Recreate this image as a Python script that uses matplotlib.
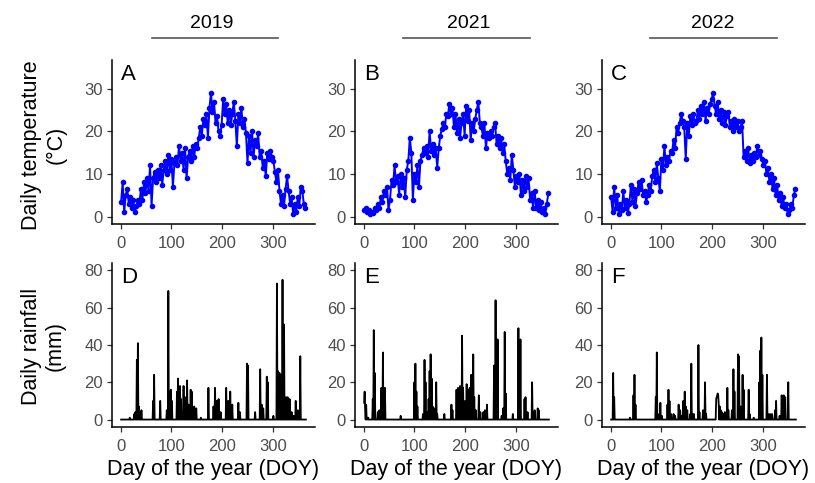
import matplotlib
matplotlib.use("Agg")
import matplotlib.pyplot as plt
from matplotlib.lines import Line2D
import numpy as np

plt.rcParams['font.family'] = ['Liberation Sans', 'DejaVu Sans']

doy_t = list(range(1, 366, 3))

temp_2019 = [3.5, 8, 1, 5, 6.5, 3, 4.5, 2, 4, 1,
             2.5, 4, 3, 6.5, 4, 8, 5.5, 9, 6, 12,
             2.5, 9, 10.5, 8, 11, 9, 12, 7.5, 11, 13,
             10, 14.5, 11, 13.5, 7, 12.5, 14, 12, 16.5, 13,
             15, 11, 16, 9, 14, 15.5, 13, 16.5, 14, 17,
             16, 18.5, 21, 19, 23, 21.5, 24, 18.5, 25.5, 29,
             24.5, 27, 22, 23.5, 20, 19, 21.5, 27.5, 24, 26.5,
             22, 25, 21.5, 24, 27, 22.5, 16.5, 24, 22, 25.5,
             21, 23, 19.5, 12.5, 19, 15, 20, 14, 18, 16.5,
             19.5, 14, 15.5, 11.5, 13, 9.5, 15, 13.5, 15.5, 14,
             13, 10.5, 8, 11, 6, 3, 5, 2.5, 6.5, 9.5,
             6, 3, 4.5, 0.5, 3, 1, 4.5, 2.5, 7, 6,
             3, 2]

temp_2021 = [1.5, 2, 1, 1.5, 0.5, 1, 0.8, 2, 1.5, 3,
             2, 4.5, 3.5, 6, 5, 7, 1.5, 4, 8.5, 7.5,
             12, 8, 9.5, 5, 10, 7, 9, 4.5, 11, 13,
             18.5, 15, 4, 10, 8, 12, 7, 13, 14.5, 16,
             15, 16.5, 14, 20, 15.5, 17, 14.5, 16, 11.5, 16,
             19, 20.5, 22, 21, 24, 23.5, 26.5, 24, 25.5, 21,
             24, 19.5, 23, 18.5, 22, 24, 19, 26, 22.5, 25,
             18, 22, 20, 23, 25, 27, 22, 21, 19, 22,
             16, 19.5, 18.5, 20, 19, 21, 22, 17, 19, 16,
             18.5, 15, 17, 13, 10, 11.5, 8.5, 14.5, 11, 7,
             9.5, 8, 10, 5, 8.5, 6, 9.5, 7, 9, 4,
             5.5, 2, 6, 2, 4, 1.5, 3.5, 1, 2, 0.5,
             3, 5.5]

temp_2022 = [4.5, 1, 7, 2, 5, 0.5, 3, 1.5, 6, 2,
             4, 0.8, 3, 7.5, 3.5, 6.5, 2.5, 5.5, 8, 6.5,
             8.5, 5, 6, 3.5, 5, 7.5, 6, 9.5, 11, 8,
             12.5, 9, 6, 13.5, 11, 16.5, 12, 14, 13, 15.5,
             15, 18, 16, 21, 19.5, 22, 24, 22.5, 21, 13.5,
             22, 19, 23.5, 21.5, 24, 22, 22.5, 25, 23, 26,
             24, 27, 22.5, 25.5, 24, 26.5, 27.5, 29, 26, 24,
             27, 23, 25, 22, 24.5, 21.5, 23.5, 24.5, 21, 22.5,
             20, 23, 21, 22.5, 20, 21, 22.5, 14, 15.5, 13,
             16, 12.5, 14.5, 13, 15, 14, 16.5, 14.5, 15.5, 13.5,
             12, 13, 10, 11.5, 8, 10, 6.5, 9, 5, 7.5,
             4, 5.5, 2.5, 4.5, 2, 3, 0.5, 1.5, 3, 2,
             5, 6.5]

# Rainfall events (all other days are zero)
rain_doy_2019 = [18, 27, 29, 32, 34, 36, 41, 64, 66, 78, 91, 94, 96, 99, 101,
                 111, 113, 115, 117, 119, 124, 127, 131, 134, 138, 140, 145, 149,
                 158, 173, 183, 186, 189, 193, 197, 208, 212, 216, 220, 232, 235,
                 249, 251, 265, 275, 278, 281, 288, 290, 301, 308, 310, 313, 316,
                 319, 322, 326, 329, 333, 337, 341, 345, 349, 354]
rain_mm_2019 = [1, 3, 4, 32, 41, 7, 5, 10, 24, 10, 5, 69, 15, 16, 10,
                15, 22, 15, 18, 11, 18, 12, 21, 8, 16, 15, 7, 6,
                1, 17, 7, 17, 10, 11, 4, 17, 10, 15, 8, 9, 4,
                30, 29, 4, 27, 8, 6, 23, 20, 2, 73, 26, 25, 24,
                75, 51, 12, 12, 11, 4, 2, 10, 5, 34]

rain_doy_2021 = [1, 2, 3, 5, 7, 9, 18, 20, 22, 28, 31, 35, 38, 40, 42,
                 73, 100, 102, 104, 106, 117, 120, 122, 125, 128, 130, 132, 134,
                 136, 139, 143, 145, 159, 173, 175, 183, 186, 190, 194, 196, 200,
                 203, 206, 209, 212, 216, 218, 221, 227, 230, 236, 239, 243, 257,
                 260, 264, 272, 275, 278, 280, 294, 305, 309, 317, 319, 323, 332,
                 334, 337, 343, 345]
rain_mm_2021 = [9, 15, 5, 8, 1, 1, 11, 48, 25, 4, 5, 17, 36, 17, 17,
                2, 20, 30, 15, 7, 3, 32, 20, 4, 11, 26, 35, 22,
                7, 6, 20, 3, 3, 8, 5, 16, 17, 18, 45, 17, 10,
                19, 16, 17, 24, 35, 12, 5, 13, 4, 4, 5, 8, 29,
                64, 43, 2, 6, 47, 14, 3, 49, 43, 11, 12, 4, 20,
                4, 5, 6, 5]

rain_doy_2022 = [5, 7, 38, 45, 47, 49, 89, 91, 93, 98, 101, 112, 114, 116, 119,
                 124, 127, 134, 137, 140, 143, 146, 148, 151, 157, 159, 161, 164,
                 173, 175, 182, 186, 188, 208, 209, 210, 211, 212, 213, 215, 217,
                 219, 222, 225, 230, 232, 239, 242, 244, 251, 253, 256, 260, 262,
                 272, 274, 282, 293, 295, 297, 299, 308, 310, 314, 318, 324, 326,
                 333, 337, 341, 344, 350]
rain_mm_2022 = [25, 12, 1, 13, 24, 8, 12, 36, 3, 9, 2, 8, 16, 10, 3,
                3, 2, 8, 5, 2, 10, 15, 7, 5, 3, 30, 3, 3,
                40, 4, 5, 20, 3, 11, 12, 13, 14, 13, 8, 7, 5,
                4, 3, 4, 17, 5, 5, 27, 15, 35, 34, 7, 24, 16,
                16, 3, 1, 20, 37, 44, 24, 24, 3, 3, 3, 5, 10,
                2, 13, 13, 12, 20]

years = ["2019", "2021", "2022"]
temp_series = [temp_2019, temp_2021, temp_2022]
rain_events = [(rain_doy_2019, rain_mm_2019),
               (rain_doy_2021, rain_mm_2021),
               (rain_doy_2022, rain_mm_2022)]
letters_top = ["A", "B", "C"]
letters_bot = ["D", "E", "F"]


W, H = 815, 483
fig = plt.figure(figsize=(W / 100, H / 100), dpi=100)

lefts = [112, 355, 602]
ax_w = 203
top_row = (60, 224)
bot_row = (263, 427)


def frac_box(left, top, bottom):
    return [left / W, (H - bottom) / H, ax_w / W, (bottom - top) / H]


def style(ax):
    for s in ["top", "right"]:
        ax.spines[s].set_visible(False)
    for s in ["left", "bottom"]:
        ax.spines[s].set_linewidth(1.1)
        ax.spines[s].set_color("black")
    ax.tick_params(length=3.5, width=0.9, color="#333333",
                   labelsize=12, labelcolor="#4D4D4D", pad=3)
    ax.tick_params(axis="x", pad=5)
    ax.set_xlim(-17, 383)
    ax.set_xticks([0, 100, 200, 300])


days = np.arange(1, 366)

for i in range(3):
    # temperature
    ax = fig.add_axes(frac_box(lefts[i], *top_row))
    style(ax)
    ax.plot(doy_t, temp_series[i], "-o", color="blue", lw=1.4, ms=3.0)
    ax.set_ylim(-1.75, 36.75)
    ax.set_yticks([0, 10, 20, 30])
    ax.text(0.045, 0.975, letters_top[i], transform=ax.transAxes,
            fontsize=16, va="top", ha="left")

    # rainfall
    ax2 = fig.add_axes(frac_box(lefts[i], *bot_row))
    style(ax2)
    rain = np.zeros(365)
    rd, rm = rain_events[i]
    rain[np.array(rd) - 1] = rm
    ax2.plot(days, rain, color="black", lw=1.3)
    ax2.set_ylim(-4, 84)
    ax2.set_yticks([0, 20, 40, 60, 80])
    ax2.text(0.045, 0.975, letters_bot[i], transform=ax2.transAxes,
             fontsize=16, va="top", ha="left")
    ax2.set_xlabel("Day of the year (DOY)", fontsize=15.5, labelpad=4)

# year headers with rule below
year_x = [212, 469, 713]
rule_x = [(152, 278), (403, 530), (650, 777)]
for yr, xc, (x0, x1) in zip(years, year_x, rule_x):
    fig.text(xc / W, (H - 23) / H, yr, fontsize=14, ha="center", va="center")
    fig.add_artist(Line2D([x0 / W, x1 / W], [(H - 38) / H, (H - 38) / H],
                          color="#555555", lw=1.2))

fig.text(43.5 / W, (H - 145) / H, "Daily temperature\n(°C)", rotation=90,
         fontsize=15.5, ha="center", va="center", multialignment="center")
fig.text(43.5 / W, (H - 346) / H, "Daily rainfall\n(mm)", rotation=90,
         fontsize=15.5, ha="center", va="center", multialignment="center")

fig.savefig("out.png", dpi=100)
